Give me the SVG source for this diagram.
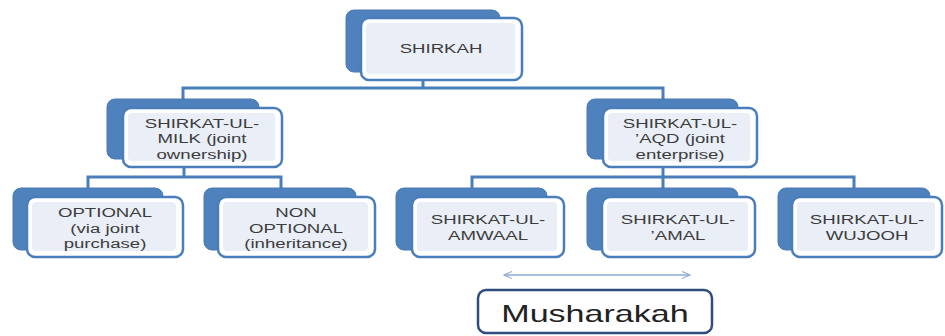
<svg xmlns="http://www.w3.org/2000/svg" width="945" height="336" viewBox="0 0 945 336">
<style>
.back{fill:#4F81BD;stroke:#4A7BB5;stroke-width:1}
.front{fill:#FFFFFF;stroke:#4A7EBB;stroke-width:2.5}
.inner{fill:#E9EEF7}
.lbl{font-family:"Liberation Sans",Arial,sans-serif;font-size:13.5px;fill:#3C3C3C;text-anchor:middle}
.con{fill:none;stroke:#4A7EBB;stroke-width:3}
</style>
<defs>
<marker id="ah" viewBox="0 0 10 10" refX="9" refY="5" markerWidth="9" markerHeight="9" markerUnits="userSpaceOnUse" orient="auto-start-reverse">
<path d="M0,1 L9,5 L0,9" fill="none" stroke="#8DAAD6" stroke-width="1.2"/>
</marker>
</defs>
<rect width="945" height="336" fill="#FFFFFF"/>
<g id="connectors">
<path class="con" d="M423,80 V88 M183,99 V88 H663 V99"/>
<path class="con" d="M184,167 V177 M88,188 V177 H281 V188"/>
<path class="con" d="M663,167 V177 M472,188 V177 H854 V188 M663,177 V188"/>
<line x1="504" y1="275" x2="690" y2="275" stroke="#8DAAD6" stroke-width="1.5" marker-start="url(#ah)" marker-end="url(#ah)"/>
</g>
<g id="shirkah">
<rect class="back" x="346" y="10" width="154" height="62" rx="8"/>
<rect class="front" x="361" y="18" width="161" height="62" rx="8"/>
<rect class="inner" x="366" y="23" width="149" height="51" rx="4"/>
<g transform="translate(441,0) scale(1.38,1)"><text class="lbl" x="0" y="53">SHIRKAH</text></g>
</g>
<g id="milk">
<rect class="back" x="107" y="99" width="152" height="60" rx="8"/>
<rect class="front" x="123" y="108" width="159" height="59" rx="8"/>
<rect class="inner" x="128" y="113" width="147" height="48" rx="4"/>
<g transform="translate(202,0) scale(1.38,1)"><text class="lbl" x="0" y="128">SHIRKAT-UL-</text><text class="lbl" x="0" y="143.5">MILK (joint</text><text class="lbl" x="0" y="159">ownership)</text></g>
</g>
<g id="aqd">
<rect class="back" x="587" y="99" width="151" height="60" rx="8"/>
<rect class="front" x="603" y="108" width="154" height="59" rx="8"/>
<rect class="inner" x="608" y="113" width="142" height="48" rx="4"/>
<g transform="translate(680,0) scale(1.38,1)"><text class="lbl" x="0" y="128">SHIRKAT-UL-</text><text class="lbl" x="0" y="143.5">’AQD (joint</text><text class="lbl" x="0" y="159">enterprise)</text></g>
</g>
<g id="optional">
<rect class="back" x="13" y="188" width="150" height="62" rx="8"/>
<rect class="front" x="27" y="197" width="156" height="60" rx="8"/>
<rect class="inner" x="32" y="202" width="144" height="49" rx="4"/>
<g transform="translate(105,0) scale(1.38,1)"><text class="lbl" x="0" y="217.5">OPTIONAL</text><text class="lbl" x="0" y="233">(via joint</text><text class="lbl" x="0" y="248.5">purchase)</text></g>
</g>
<g id="nonoptional">
<rect class="back" x="204" y="188" width="152" height="62" rx="8"/>
<rect class="front" x="218" y="197" width="157" height="60" rx="8"/>
<rect class="inner" x="223" y="202" width="145" height="49" rx="4"/>
<g transform="translate(296,0) scale(1.38,1)"><text class="lbl" x="0" y="217.5">NON</text><text class="lbl" x="0" y="233">OPTIONAL</text><text class="lbl" x="0" y="248.5">(inheritance)</text></g>
</g>
<g id="amwaal">
<rect class="back" x="396" y="188" width="151" height="62" rx="8"/>
<rect class="front" x="412" y="197" width="152" height="60" rx="8"/>
<rect class="inner" x="417" y="202" width="140" height="49" rx="4"/>
<g transform="translate(488,0) scale(1.38,1)"><text class="lbl" x="0" y="224">SHIRKAT-UL-</text><text class="lbl" x="0" y="240">AMWAAL</text></g>
</g>
<g id="amal">
<rect class="back" x="587" y="188" width="151" height="62" rx="8"/>
<rect class="front" x="602" y="197" width="153" height="60" rx="8"/>
<rect class="inner" x="607" y="202" width="141" height="49" rx="4"/>
<g transform="translate(678,0) scale(1.38,1)"><text class="lbl" x="0" y="224">SHIRKAT-UL-</text><text class="lbl" x="0" y="240">’AMAL</text></g>
</g>
<g id="wujooh">
<rect class="back" x="778" y="188" width="152" height="62" rx="8"/>
<rect class="front" x="792" y="197" width="150" height="60" rx="8"/>
<rect class="inner" x="797" y="202" width="138" height="49" rx="4"/>
<g transform="translate(867,0) scale(1.38,1)"><text class="lbl" x="0" y="224">SHIRKAT-UL-</text><text class="lbl" x="0" y="240">WUJOOH</text></g>
</g>
<g id="musharakah">
<rect x="478" y="290" width="234" height="43" rx="8" fill="#FFFFFF" stroke="#2F4D7E" stroke-width="2.5"/>
<g transform="translate(595,0) scale(1.42,1)"><text x="0" y="322" font-family="Liberation Sans, Arial, sans-serif" font-size="24" fill="#222222" text-anchor="middle">Musharakah</text></g>
</g>
</svg>
